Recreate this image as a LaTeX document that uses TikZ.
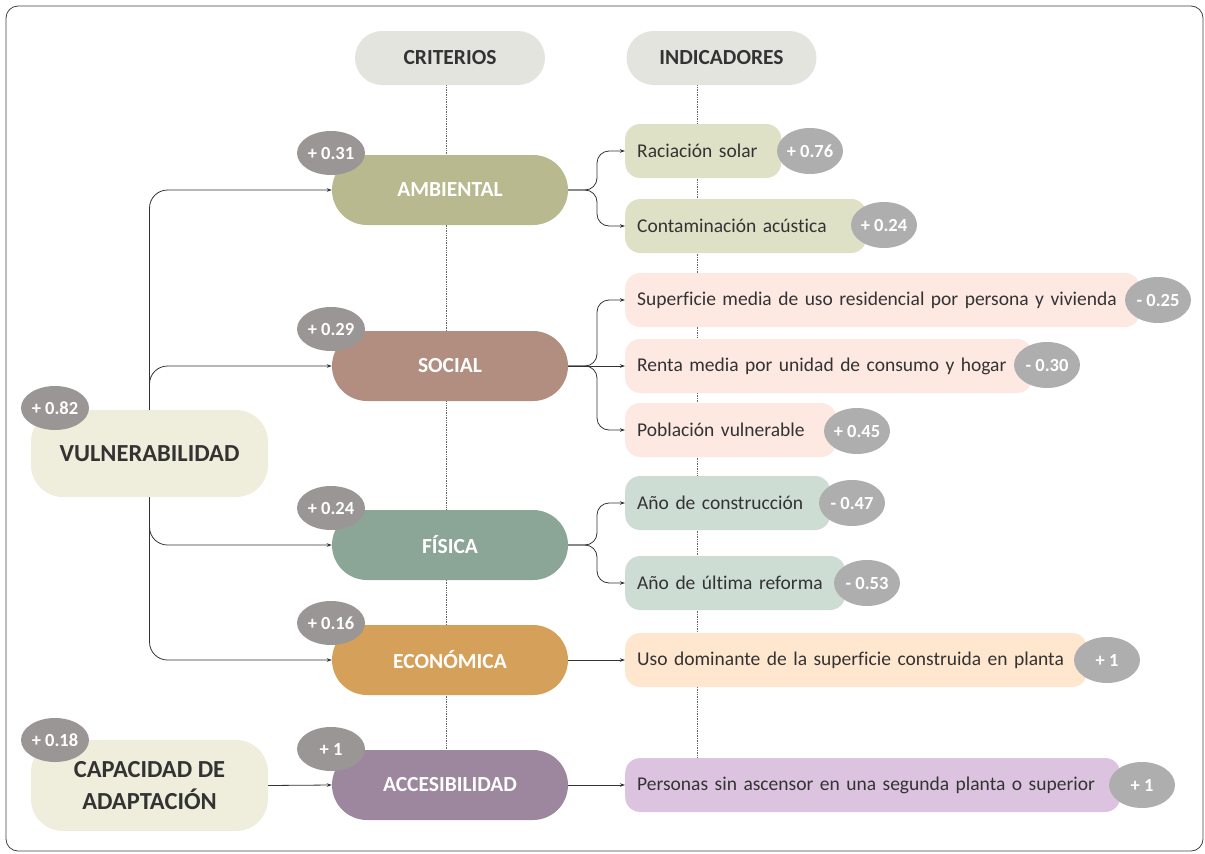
\documentclass[tikz,border=0pt]{standalone}
\usepackage{fontspec}
\setmainfont{Carlito}[Ligatures={NoCommon}]
\usetikzlibrary{arrows.meta,backgrounds,calc,shapes.geometric}
\definecolor{hdrc}{HTML}{E4E4DF}
\definecolor{vulc}{HTML}{EFEEDC}
\definecolor{ambc}{HTML}{B8B98E}
\definecolor{socc}{HTML}{B28E80}
\definecolor{fisc}{HTML}{8BA596}
\definecolor{ecoc}{HTML}{D5A05A}
\definecolor{accc}{HTML}{9C879F}
\definecolor{ambi}{HTML}{DEE1C6}
\definecolor{soci}{HTML}{FDE8E2}
\definecolor{fisi}{HTML}{CEDDD3}
\definecolor{ecoi}{HTML}{FFE6CE}
\definecolor{acci}{HTML}{DCC4E0}
\definecolor{bdd}{HTML}{9B9696}
\definecolor{bdl}{HTML}{AEAEAE}
\definecolor{txtc}{HTML}{333333}
\tikzset{
  hdr/.style={fill=hdrc, rounded corners=27pt, minimum width=190pt, minimum height=54pt, text=txtc, font=\fontsize{21.5}{24}\selectfont\bfseries},
  crit/.style={rounded corners=35pt, minimum width=236pt, minimum height=70pt, text=white, font=\fontsize{21.5}{24}\selectfont\bfseries},
  mainbox/.style={fill=vulc, rounded corners=32pt, minimum width=237pt, text=txtc, font=\fontsize{24.5}{32}\selectfont\bfseries, align=center},
  ind/.style={anchor=west, rounded corners=15pt, minimum height=54pt, inner xsep=12pt, align=left, text=txtc, font=\fontsize{19.5}{22}\selectfont},
  bdg/.style={ellipse, fill=bdd, minimum width=68pt, minimum height=44pt, inner sep=0pt, text=white, font=\fontsize{18.5}{20}\selectfont\bfseries},
  bdgl/.style={bdg, fill=bdl, minimum width=66pt, minimum height=46pt},
  conn/.style={draw=txtc, line width=0.8pt, -{Stealth[length=5pt,width=3.5pt]}},
  dotl/.style={draw=black!60, line width=0.7pt, densely dotted},
}
\begin{document}
\begin{tikzpicture}[x=1pt,y=-1pt]
\useasboundingbox (0,0) rectangle (1205,854);
% headers
\node[hdr] (crith) at (450,58) {CRITERIOS};
\node[hdr] (indh) at (721.5,58) {INDICADORES};
% main boxes
\node[mainbox, minimum height=87pt] (vul) at (149.5,453.5) {VULNERABILIDAD};
\node[mainbox, minimum height=91pt] (cap) at (149.5,785.5) {CAPACIDAD DE\\ADAPTACIÓN};
% criteria
\node[crit, fill=ambc] (amb) at (450,190) {AMBIENTAL};
\node[crit, fill=socc] (soc) at (450,366) {SOCIAL};
\node[crit, fill=fisc] (fis) at (450,545) {FÍSICA};
\node[crit, fill=ecoc] (eco) at (450,660) {ECONÓMICA};
\node[crit, fill=accc] (acc) at (450,785) {ACCESIBILIDAD};
% indicators
\node[ind, fill=ambi, text width=132pt] (i1) at (625,151) {Raciación solar};
\node[ind, fill=ambi, text width=217pt] (i2) at (625,226) {Contaminación acústica};
\node[ind, fill=soci, text width=491pt] (i3) at (625,300) {\mbox{Superficie media de uso residencial por persona y vivienda}};
\node[ind, fill=soci, text width=383pt] (i4) at (625,366) {\mbox{Renta media por unidad de consumo y hogar}};
\node[ind, fill=soci, text width=187pt] (i5) at (625,430) {Población vulnerable};
\node[ind, fill=fisi, text width=181pt] (i6) at (625,503) {Año de construcción};
\node[ind, fill=fisi, text width=196pt] (i7) at (625,583) {Año de última reforma};
\node[ind, fill=ecoi, text width=438pt] (i8) at (625,660) {\mbox{Uso dominante de la superficie construida en planta}};
\node[ind, fill=acci, text width=471pt] (i9) at (625,785) {\mbox{Personas sin ascensor en una segunda planta o superior}};
% badges
\node[bdg] (bv) at (55,408) {+ 0.82};
\node[bdg] (bc) at (55,740) {+ 0.18};
\node[bdg] (b1c) at (331,153) {+ 0.31};
\node[bdg] (b2c) at (331,329) {+ 0.29};
\node[bdg] (b3c) at (331,508) {+ 0.24};
\node[bdg] (b4c) at (331,623) {+ 0.16};
\node[bdg] (b5c) at (331,749) {+ 1};
\node[bdgl] (b1) at (810,151) {+ 0.76};
\node[bdgl] (b2) at (884,225) {+ 0.24};
\node[bdgl] (b3) at (1158,300) {- 0.25};
\node[bdgl] (b4) at (1047,365) {- 0.30};
\node[bdgl] (b5) at (857,431) {+ 0.45};
\node[bdgl] (b6) at (852,503) {- 0.47};
\node[bdgl] (b7) at (867,583) {- 0.53};
\node[bdgl] (b8) at (1107,660) {+ 1};
\node[bdgl] (b9) at (1142,785) {+ 1};
\begin{scope}[on background layer]
\draw[draw=black!75, line width=0.8pt, rounded corners=12pt] (6,6) rectangle (1203,851);
\draw[dotl] ([xshift=-4pt]crith.south) -- ([xshift=-4pt]crith.south |- acc.north);
\draw[dotl] ([xshift=-24.5pt]indh.south) -- ([xshift=-24.5pt]indh.south |- i9.north);
\draw[conn, rounded corners=18pt] (vul.center) |- (amb.west);
\draw[conn, rounded corners=18pt] (vul.center) |- (soc.west);
\draw[conn, rounded corners=18pt] (vul.center) |- (fis.west);
\draw[conn, rounded corners=18pt] (vul.center) |- (eco.west);
\draw[conn] (cap.east) -- (acc.west);
\draw[conn, rounded corners=12pt] (amb.east) -| ([xshift=-28pt]i1.west) -- (i1.west);
\draw[conn, rounded corners=12pt] (amb.east) -| ([xshift=-28pt]i2.west) -- (i2.west);
\draw[conn, rounded corners=12pt] (soc.east) -| ([xshift=-28pt]i3.west) -- (i3.west);
\draw[conn] (soc.east) -- (i4.west);
\draw[conn, rounded corners=12pt] (soc.east) -| ([xshift=-28pt]i5.west) -- (i5.west);
\draw[conn, rounded corners=12pt] (fis.east) -| ([xshift=-28pt]i6.west) -- (i6.west);
\draw[conn, rounded corners=12pt] (fis.east) -| ([xshift=-28pt]i7.west) -- (i7.west);
\draw[conn] (eco.east) -- (i8.west);
\draw[conn] (acc.east) -- (i9.west);
\end{scope}
\end{tikzpicture}
\end{document}
